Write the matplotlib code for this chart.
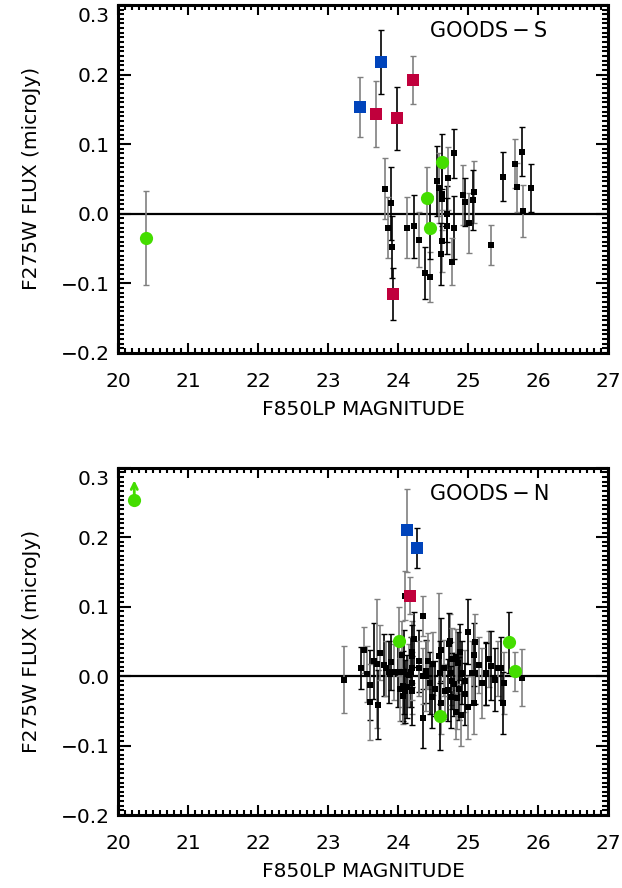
import matplotlib
matplotlib.use('Agg')
import matplotlib.pyplot as plt
from matplotlib.ticker import MultipleLocator, FuncFormatter
from matplotlib.transforms import ScaledTranslation

plt.rcParams['font.family'] = ['DejaVu Sans']

# GOODS-S field: black points (magnitude, flux, error)
s_mag = [23.81, 23.90, 23.86, 23.91, 24.12, 24.22, 24.30, 24.38, 24.45, 24.55, 24.58,
         24.62, 24.63, 24.69, 24.62, 24.61, 24.71, 24.79, 24.92, 24.95, 25.08, 25.07,
         25.01, 24.80, 24.77, 24.69, 25.33, 25.50, 25.67, 25.77, 25.70, 25.90, 25.78]
s_flux = [0.036, 0.015, -0.020, -0.048, -0.020, -0.018, -0.037, -0.085, -0.091, 0.047, 0.037,
          0.028, 0.021, 0.000, -0.039, -0.058, 0.051, 0.087, 0.027, 0.017, 0.031, 0.020,
          -0.013, -0.020, -0.069, -0.018, -0.045, 0.053, 0.072, 0.089, 0.038, 0.037, 0.004]
s_err = [0.044, 0.052, 0.044, 0.045, 0.044, 0.045, 0.040, 0.037, 0.036, 0.050, 0.050,
         0.045, 0.045, 0.040, 0.045, 0.045, 0.045, 0.035, 0.043, 0.035, 0.045, 0.043,
         0.043, 0.045, 0.034, 0.040, 0.029, 0.035, 0.035, 0.035, 0.035, 0.035, 0.037]

# GOODS-S coloured sources
s_blue_mag = [23.45, 23.76]
s_blue_flux = [0.153, 0.218]
s_blue_err = [0.043, 0.046]
s_red_mag = [23.68, 23.98, 24.21, 23.93]
s_red_flux = [0.143, 0.137, 0.192, -0.115]
s_red_err = [0.047, 0.045, 0.035, 0.037]
s_green_mag = [20.40, 24.63, 24.41, 24.45]
s_green_flux = [-0.035, 0.075, 0.023, -0.020]
s_green_err = [0.067, 0.040, 0.044, 0.045]

# GOODS-N field: black points
n_mag = [23.22, 23.47, 23.51, 23.60, 23.60, 23.65, 23.69, 23.71, 23.74, 23.80, 23.83,
         23.87, 23.94, 23.99, 24.03, 24.07, 24.07, 24.08, 24.09, 24.10, 24.15, 24.18,
         24.20, 24.23, 24.19, 24.20, 24.20, 24.29, 24.36, 24.35, 24.35, 24.40, 24.43,
         24.46, 24.50, 24.52, 24.58, 24.61, 24.61, 24.60, 24.67, 24.71, 24.74, 24.73,
         24.75, 24.77, 24.77, 24.80, 24.83, 24.85, 24.84, 24.87, 24.89, 24.91, 24.95,
         24.95, 24.99, 25.00, 25.05, 25.08, 25.09, 25.10, 25.15, 25.25, 25.30, 25.33,
         25.43, 25.47, 25.51, 25.50, 25.77, 25.26, 24.82, 24.19, 24.30, 24.75, 25.08,
         24.13, 24.39, 23.90, 24.05, 24.48, 24.65, 24.88, 25.20, 25.38, 23.56]
n_flux = [-0.005, 0.012, 0.038, -0.013, -0.037, 0.022, 0.018, -0.041, 0.034, 0.016, 0.011,
          0.006, 0.006, 0.006, -0.019, -0.014, -0.029, 0.006, 0.116, -0.022, 0.001, 0.006,
          0.035, 0.053, -0.010, -0.021, 0.011, 0.022, 0.087, -0.061, 0.000, 0.007, 0.022,
          -0.010, 0.018, -0.018, 0.029, 0.038, -0.039, 0.005, -0.022, -0.020, 0.050, 0.046,
          0.004, -0.007, 0.025, -0.012, -0.051, 0.019, -0.031, -0.018, -0.056, 0.005, -0.007,
          -0.026, -0.045, 0.064, 0.005, 0.031, 0.049, 0.005, 0.016, 0.004, 0.025, 0.015,
          0.011, 0.011, -0.010, -0.039, -0.002, 0.003, 0.028, 0.029, 0.011, -0.030, -0.038,
          -0.015, 0.000, 0.020, 0.030, -0.030, 0.012, 0.035, -0.010, -0.005, 0.003]
n_err = [0.048, 0.030, 0.033, 0.050, 0.055, 0.055, 0.093, 0.050, 0.040, 0.045, 0.040,
         0.045, 0.040, 0.050, 0.045, 0.050, 0.040, 0.060, 0.035, 0.045, 0.045, 0.050,
         0.045, 0.040, 0.045, 0.050, 0.045, 0.045, 0.029, 0.043, 0.040, 0.045, 0.040,
         0.045, 0.045, 0.040, 0.090, 0.045, 0.045, 0.045, 0.040, 0.045, 0.040, 0.045,
         0.045, 0.040, 0.045, 0.045, 0.040, 0.045, 0.045, 0.045, 0.045, 0.045, 0.045,
         0.045, 0.045, 0.047, 0.045, 0.045, 0.040, 0.045, 0.040, 0.045, 0.040, 0.050,
         0.040, 0.045, 0.045, 0.045, 0.041, 0.045, 0.040, 0.045, 0.040, 0.045, 0.045,
         0.045, 0.050, 0.040, 0.050, 0.045, 0.040, 0.040, 0.050, 0.045, 0.040]

# GOODS-N coloured sources
n_blue_mag = [24.13, 24.27]
n_blue_flux = [0.210, 0.185]
n_blue_err = [0.060, 0.029]
n_red_mag = [24.17]
n_red_flux = [0.116]
n_red_err = [0.027]
n_green_mag = [24.01, 25.58, 25.67, 24.60]
n_green_flux = [0.050, 0.049, 0.007, -0.058]
n_green_err = [0.050, 0.044, 0.028, 0.048]
# lower limit source (arrow)
n_limit_mag = [20.23]
n_limit_flux = [0.254]

BLUE = '#0044bb'
RED = '#c0003c'
GREEN = '#44dd00'
GRAY = '#808080'
FS = 14.5


def fmt_y(v, pos):
    s = '%.1f' % v
    if s == '-0.0':
        s = '0.0'
    return s.replace('-', '\u2212')


# Set up one IDL-looking panel
def style_axes(ax):
    ax.set_xlim(20, 27)
    ax.set_ylim(-0.2, 0.3)
    ax.xaxis.set_major_locator(MultipleLocator(1))
    ax.xaxis.set_minor_locator(MultipleLocator(0.1))
    ax.yaxis.set_major_locator(MultipleLocator(0.1))
    ax.yaxis.set_minor_locator(MultipleLocator(0.1 / 15))
    ax.yaxis.set_major_formatter(FuncFormatter(fmt_y))
    for sp in ax.spines.values():
        sp.set_linewidth(2.2)
    ax.tick_params(axis='both', which='both', direction='in', top=True, right=True,
                   labelsize=FS, width=1.5)
    ax.tick_params(axis='x', which='major', length=7, pad=14)
    ax.tick_params(axis='x', which='minor', length=3.5)
    ax.tick_params(axis='y', which='major', length=9, pad=6)
    ax.tick_params(axis='y', which='minor', length=4.5)
    ax.set_xlabel('F850LP MAGNITUDE', fontsize=FS, labelpad=6)
    ax.set_ylabel('F275W FLUX (microJy)', fontsize=FS, labelpad=14)
    ax.axhline(0, color='black', lw=1.6, zorder=1)


def shift_top_label(fig, ax):
    # IDL puts the topmost y label a bit below the axis edge
    fig.canvas.draw()
    labels = ax.get_yticklabels()
    for lab in labels:
        if lab.get_text() == '0.3':
            lab.set_transform(lab.get_transform() +
                              ScaledTranslation(0, -7 / 72, fig.dpi_scale_trans))


def draw_errs(ax, mag, flux, err, color, marker, ms):
    for i in range(len(mag)):
        ecol = GRAY if i % 2 == 0 else 'black'
        ax.errorbar(mag[i], flux[i], yerr=err[i], fmt='none', ecolor=ecol,
                    elinewidth=1.2, capsize=2.5, capthick=1.0, zorder=2)
    ax.plot(mag, flux, linestyle='none', marker=marker, color=color,
            markersize=ms, markeredgewidth=0, zorder=3)


fig = plt.figure(figsize=(6.22, 8.88), dpi=100)
ax1 = fig.add_axes([0.190, 0.6025, 0.788, 0.392])
ax2 = fig.add_axes([0.190, 0.0822, 0.788, 0.391])

for ax in (ax1, ax2):
    style_axes(ax)

# GOODS-S panel
draw_errs(ax1, s_mag, s_flux, s_err, 'black', 's', 4.5)
draw_errs(ax1, s_blue_mag, s_blue_flux, s_blue_err, BLUE, 's', 8)
draw_errs(ax1, s_red_mag, s_red_flux, s_red_err, RED, 's', 8)
draw_errs(ax1, s_green_mag, s_green_flux, s_green_err, GREEN, 'o', 9.5)
ax1.text(0.636, 0.925, 'GOODS\u2009\u2212\u2009S', transform=ax1.transAxes, fontsize=15, va='center')

# GOODS-N panel
draw_errs(ax2, n_mag, n_flux, n_err, 'black', 's', 4.5)
draw_errs(ax2, n_blue_mag, n_blue_flux, n_blue_err, BLUE, 's', 8)
draw_errs(ax2, n_red_mag, n_red_flux, n_red_err, RED, 's', 8)
draw_errs(ax2, n_green_mag, n_green_flux, n_green_err, GREEN, 'o', 9.5)
ax2.plot(n_limit_mag, n_limit_flux, linestyle='none', marker='o', color=GREEN,
         markersize=9.5, markeredgewidth=0, zorder=3)
for m, f in zip(n_limit_mag, n_limit_flux):
    ax2.annotate('', xy=(m, f + 0.032), xytext=(m, f),
                 arrowprops=dict(arrowstyle='->', color=GREEN, lw=2, mutation_scale=11))
ax2.text(0.636, 0.925, 'GOODS\u2009\u2212\u2009N', transform=ax2.transAxes, fontsize=15, va='center')

for ax in (ax1, ax2):
    shift_top_label(fig, ax)

fig.savefig('out.png', dpi=100)
